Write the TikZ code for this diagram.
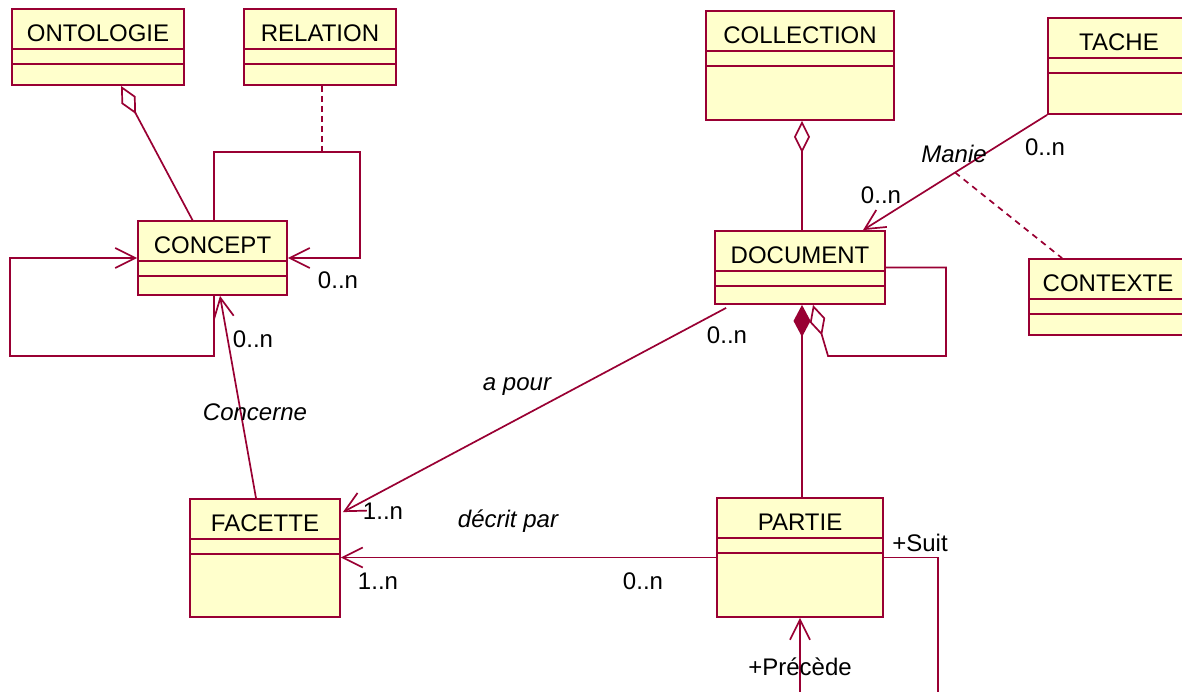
\documentclass[tikz,border=0pt]{standalone}
\usepackage{fontspec}
\setmainfont{Liberation Sans}
\usetikzlibrary{arrows.meta,calc}
\definecolor{rosered}{RGB}{153,0,51}
\definecolor{rosefond}{RGB}{255,255,204}
\tikzset{
    classe/.style n args={3}{draw=rosered, fill=rosefond, line width=0.9pt, inner sep=0pt,
        minimum width=#1, minimum height=#2, text height=16pt, text depth=#3,
        font=\fontsize{12}{14}\selectfont,
        path picture={
            \draw[rosered, line width=0.9pt] ([yshift=-20pt]path picture bounding box.north west) -- ([yshift=-20pt]path picture bounding box.north east);
            \draw[rosered, line width=0.9pt] ([yshift=-27.5pt]path picture bounding box.north west) -- ([yshift=-27.5pt]path picture bounding box.north east);
        }},
    lien/.style={draw=rosered, line width=0.85pt},
    fleche/.style={lien, -{Straight Barb[length=10pt,width=10pt]}},
    agreg/.style={lien, {Diamond[open,length=16pt,width=8pt]}-},
    compo/.style={lien, {Diamond[length=16pt,width=8.5pt,fill=rosered]}-},
    etiq/.style={font=\fontsize{12}{14}\selectfont, inner sep=1pt},
    role/.style={font=\fontsize{12}{14}\selectfont\itshape, inner sep=1pt}
}
\begin{document}
\begin{tikzpicture}[x=0.5pt, y=-0.5pt]
                    \useasboundingbox (0, 0) rectangle (1182, 691);
                    \clip (0, 0) rectangle (1182, 691);
                    % classes
                    \node[classe={86pt}{38pt}{22pt}] (ontologie) at (98, 47) {ONTOLOGIE};
                    \node[classe={76pt}{38pt}{22pt}] (relation) at (320, 47) {RELATION};
                    \node[classe={74.5pt}{37pt}{21pt}] (concept) at (212.5, 258) {CONCEPT};
                    \node[classe={94pt}{54.5pt}{38.5pt}] (collection) at (800, 65.5) {COLLECTION};
                    \node[classe={71pt}{48pt}{32pt}] (tache) at (1119, 66) {TACHE};
                    \node[classe={79pt}{38pt}{22pt}] (contexte) at (1108, 297) {CONTEXTE};
                    \node[classe={85pt}{36.5pt}{20.5pt}] (document) at (800, 267.5) {DOCUMENT};
                    \node[classe={83pt}{59.5pt}{43.5pt}] (partie) at (800, 557.5) {PARTIE};
                    \node[classe={75pt}{59pt}{43pt}] (facette) at (265, 558) {FACETTE};
                    % liens
                    \draw[agreg] ($(ontologie.south)+(23, 0)$) -- ($(concept.north)+(-20, 0)$);
                    \draw[fleche] ($(concept.north)+(1.5, 0)$) -- ++(0, -68) -| ($(concept.east)+(72, 0)$) -- (concept.east);
                    \coordinate (boucle) at (322, 153);
                    \draw[lien, dash pattern=on 3pt off 2pt] ($(relation.south)+(2, 0)$) -- (boucle);
                    \draw[fleche] ($(concept.south)+(1.5, 0)$) -- ++(0, 60) -| ($(concept.west)+(-127, 0)$) -- (concept.west);
                    \draw[fleche] ($(facette.north)+(-9, 0)$) -- ($(concept.south)+(7.5, 0)$);
                    \draw[agreg] ($(collection.south)+(2, 0)$) -- ($(document.north)+(2, 0)$);
                    \draw[fleche] (tache.south west) -- coordinate[pos=0.5] (manie) ($(document.north)+(63, 0)$);
                    \draw[lien, dash pattern=on 3pt off 2.5pt] (manie) -- ($(contexte.north)+(-46, 0)$);
                    \draw[agreg] ($(document.south)+(13, 0)$) -- ++(15, 51) -| ($(document.east)+(60, 0)$) -- (document.east);
                    \draw[compo] ($(document.south)+(2, 0)$) -- ($(partie.north)+(2, 0)$);
                    \draw[fleche] ($(document.south west)+(12, 3)$) -- ($(facette.north east)+(2, 14)$);
                    \draw[fleche] (partie.west) -- (partie.west -| facette.east);
                    \draw[fleche] (partie.east) -- ++(54, 0) -- ++(0, 150) -| (partie.south);
                    % etiquettes
                    \node[etiq] (mc1) at (338, 280) {0..n};
                    \node[etiq] (mc2) at (253, 339) {0..n};
                    \node[role] (concerne) at (255, 412) {Concerne};
                    \node[role] (apour) at (517, 387) {a pour};
                    \node[etiq] (md1) at (727, 335) {0..n};
                    \node[etiq] (mf1) at (383, 511) {1..n};
                    \node[role] (decrit) at (508, 521) {décrit par};
                    \node[etiq] (mf2) at (378, 581) {1..n};
                    \node[etiq] (mp1) at (643, 581) {0..n};
                    \node[role] (manielbl) at (954, 154) {Manie};
                    \node[etiq] (mt1) at (1045, 147) {0..n};
                    \node[etiq] (md2) at (881, 195) {0..n};
                    \node[etiq] (suit) at (920, 543) {+Suit};
                    \node[etiq] (precede) at (800, 667) {+Précède};
\end{tikzpicture}
\end{document}
